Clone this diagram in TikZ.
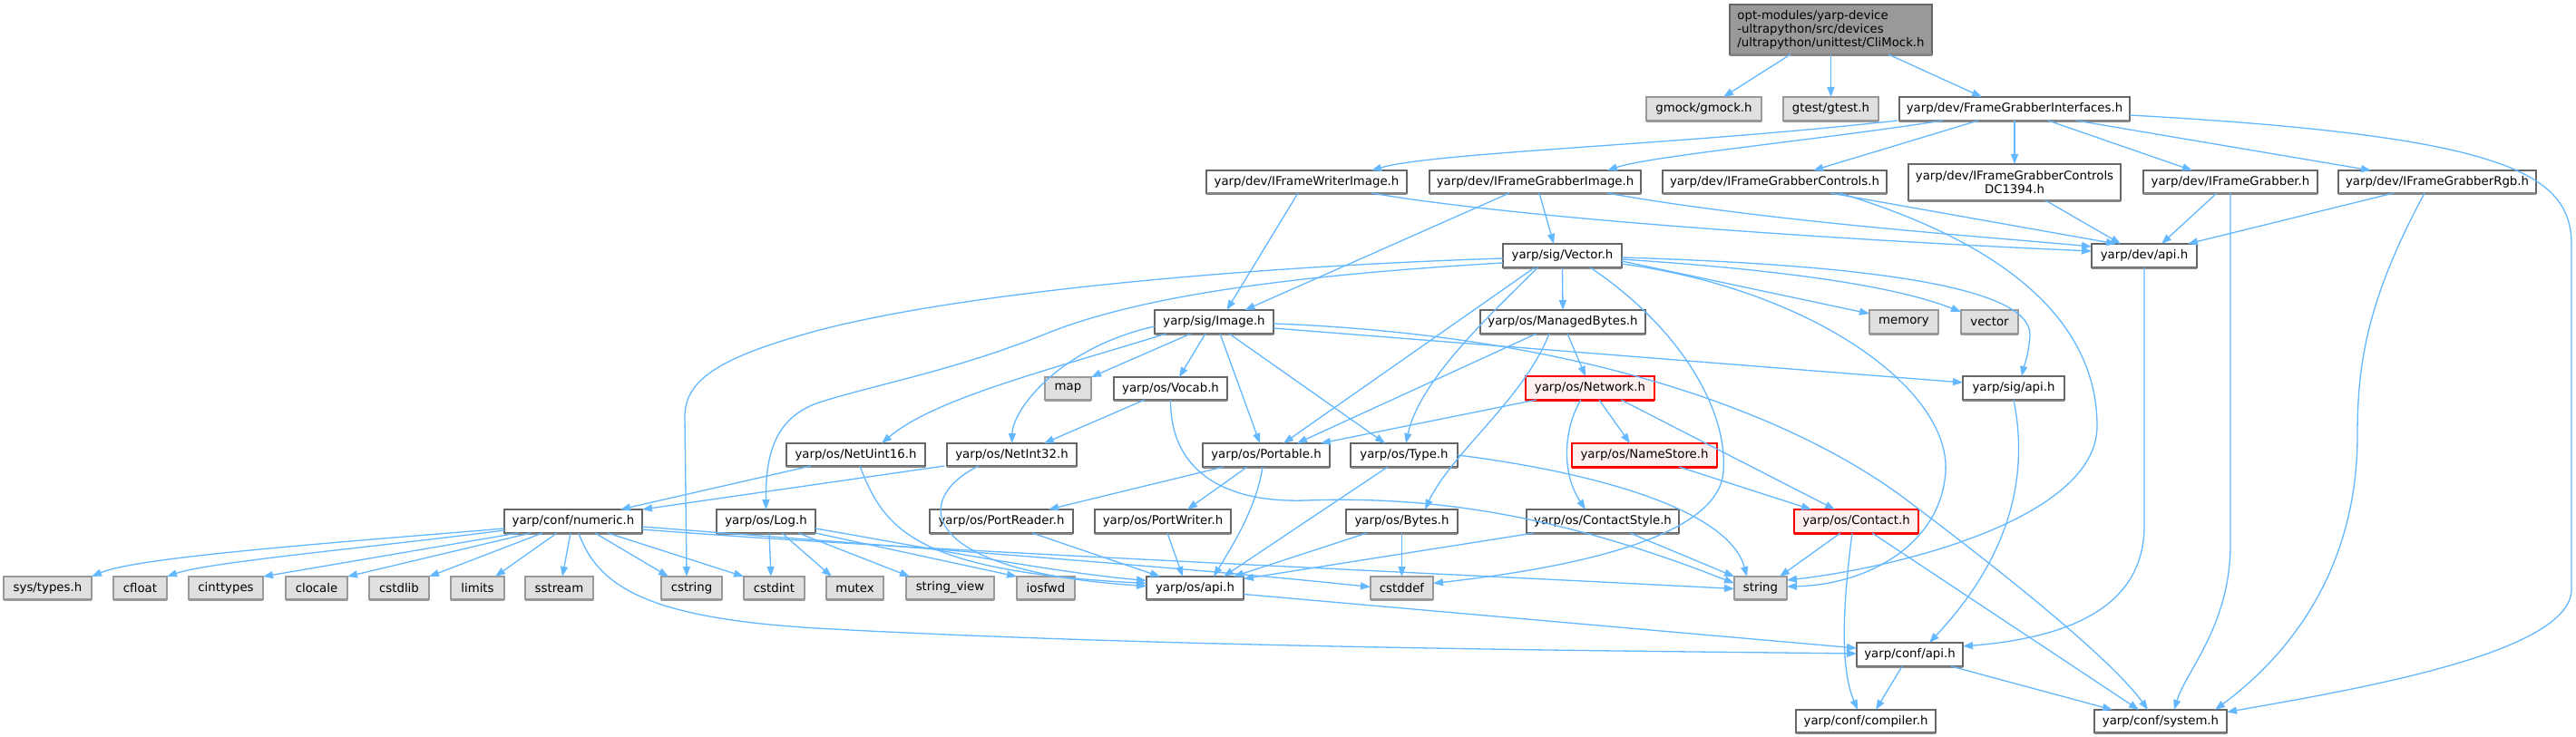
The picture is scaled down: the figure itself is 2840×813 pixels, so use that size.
\documentclass[tikz,border=0pt]{standalone}
\usepackage{fontspec}
\setmainfont{DejaVu Sans}
\usetikzlibrary{arrows.meta}
\definecolor{edgec}{HTML}{63B8FF}
\definecolor{bd}{HTML}{666666}
\definecolor{gbd}{HTML}{999999}
\definecolor{gfill}{HTML}{E0E0E0}
\definecolor{rfill}{HTML}{FFF0F0}
\definecolor{rootfill}{HTML}{999999}
\newcommand\nd[6]{\node[#1,minimum width=#4pt,minimum height=#5pt] (#2) at (#3) {#6};}
\begin{document}
\begin{tikzpicture}[x=1pt,y=-1pt,
  every node/.style={font=\fontsize{13.3}{15}\selectfont, inner sep=0pt, outer sep=0pt, line width=1.1pt, text=black},
  wbox/.style={draw=bd, fill=white, rectangle},
  gbox/.style={draw=gbd, fill=gfill, rectangle},
  rbox/.style={draw=red, fill=rfill, rectangle},
  rootbox/.style={draw=bd, fill=rootfill, rectangle},
  e/.style={draw=edgec, line width=1.3pt, -{Triangle[length=11pt,width=8pt]}},
]
\useasboundingbox[fill=white] (0,0) rectangle (2840,813);
% nodes
\nd{rootbox,align=left}{root}{2018.5,32.5}{223}{55}{opt-modules/yarp-device\\-ultrapython/src/devices\\/ultrapython/unittest/CliMock.h}
\nd{gbox}{gmock}{1878.5,120}{127}{26}{gmock/gmock.h}
\nd{gbox}{gtest}{2018.5,120}{105}{26}{gtest/gtest.h}
\nd{wbox}{fgi}{2221,120}{254}{26}{yarp/dev/FrameGrabberInterfaces.h}
\nd{wbox}{ifwi}{1440.5,200.5}{221}{25}{yarp/dev/IFrameWriterImage.h}
\nd{wbox}{ifgi}{1692.5,200.5}{233}{25}{yarp/dev/IFrameGrabberImage.h}
\nd{wbox}{ifgc}{1956.5,200.5}{247}{25}{yarp/dev/IFrameGrabberControls.h}
\nd{wbox,align=center}{dc}{2221,201}{234}{40}{yarp/dev/IFrameGrabberControls\\DC1394.h}
\nd{wbox}{ifg}{2459,200.5}{192}{25}{yarp/dev/IFrameGrabber.h}
\nd{wbox}{rgb}{2687,200.5}{218}{25}{yarp/dev/IFrameGrabberRgb.h}
\nd{wbox}{vec}{1722.5,282}{131}{26}{yarp/sig/Vector.h}
\nd{wbox}{devapi}{2364,282}{116}{26}{yarp/dev/api.h}
\nd{wbox}{img}{1338.5,355}{131}{26}{yarp/sig/Image.h}
\nd{wbox}{mb}{1723,355}{182}{26}{yarp/os/ManagedBytes.h}
\nd{gbox}{memory}{2099,355}{76}{26}{memory}
\nd{gbox}{vector}{2193.5,355}{63}{26}{vector}
\nd{gbox}{map}{1177.5,428.5}{51}{25}{map}
\nd{wbox}{vocab}{1290.5,428.5}{125}{25}{yarp/os/Vocab.h}
\nd{rbox}{net}{1753,428}{142}{26}{yarp/os/Network.h}
\nd{wbox}{sigapi}{2220,428}{112}{26}{yarp/sig/api.h}
\nd{wbox}{nu16}{943.5,501.5}{153}{25}{yarp/os/NetUint16.h}
\nd{wbox}{ni32}{1115.5,501.5}{143}{25}{yarp/os/NetInt32.h}
\nd{wbox}{port}{1396,502}{140}{26}{yarp/os/Portable.h}
\nd{wbox}{type}{1548,502}{118}{26}{yarp/os/Type.h}
\nd{rbox}{ns}{1813,502}{160}{26}{yarp/os/NameStore.h}
\nd{wbox}{numeric}{632,575}{152}{26}{yarp/conf/numeric.h}
\nd{wbox}{log}{844.5,575}{109}{26}{yarp/os/Log.h}
\nd{wbox}{prd}{1104,575}{158}{26}{yarp/os/PortReader.h}
\nd{wbox}{pwr}{1282,575}{150}{26}{yarp/os/PortWriter.h}
\nd{wbox}{bytes}{1545.5,575}{123}{26}{yarp/os/Bytes.h}
\nd{wbox}{cstyle}{1767,575}{168}{26}{yarp/os/ContactStyle.h}
\nd{rbox}{contact}{2046.5,575}{137}{26}{yarp/os/Contact.h}
\nd{gbox}{systypes}{52.5,648.5}{97}{25}{sys/types.h}
\nd{gbox}{cfloat}{154.5,648.5}{59}{25}{cfloat}
\nd{gbox}{cinttypes}{249,648.5}{82}{25}{cinttypes}
\nd{gbox}{clocale}{349,648.5}{68}{25}{clocale}
\nd{gbox}{cstdlib}{440,648.5}{66}{25}{cstdlib}
\nd{gbox}{limits}{526.5,648.5}{59}{25}{limits}
\nd{gbox}{sstream}{616.5,648.5}{75}{25}{sstream}
\nd{gbox}{cstring}{762.5,648.5}{67}{25}{cstring}
\nd{gbox}{cstdint}{853.5,648.5}{67}{25}{cstdint}
\nd{gbox}{mutex}{942.5,648.5}{63}{25}{mutex}
\nd{gbox}{strview}{1047.5,648.5}{97}{25}{string\_view}
\nd{gbox}{iosfwd}{1153,648.5}{64}{25}{iosfwd}
\nd{wbox}{osapi}{1317.5,648.5}{107}{25}{yarp/os/api.h}
\nd{gbox}{cstddef}{1545.5,648.5}{69}{25}{cstddef}
\nd{gbox}{string}{1941,648.5}{58}{25}{string}
\nd{wbox}{confapi}{2105.5,722}{117}{26}{yarp/conf/api.h}
\nd{wbox}{compiler}{2057,795.5}{154}{25}{yarp/conf/compiler.h}
\nd{wbox}{system}{2382,795.5}{146}{25}{yarp/conf/system.h}
% bottom shadows
\foreach \n in {root,fgi,ifwi,ifgi,ifgc,dc,ifg,rgb,vec,devapi,img,mb,vocab,sigapi,nu16,ni32,port,type,numeric,log,prd,pwr,bytes,cstyle,osapi,confapi,compiler,system}
  \draw[bd!80, line width=2.2pt] ([yshift=-0.6pt]\n.south west) -- ([yshift=-0.6pt]\n.south east);
\foreach \n in {gmock,gtest,memory,vector,map,systypes,cfloat,cinttypes,clocale,cstdlib,limits,sstream,cstring,cstdint,mutex,strview,iosfwd,cstddef,string}
  \draw[gbd, line width=2.2pt] ([yshift=-0.6pt]\n.south west) -- ([yshift=-0.6pt]\n.south east);
\foreach \n in {net,ns,contact}
  \draw[red, line width=2.2pt] ([yshift=-0.6pt]\n.south west) -- ([yshift=-0.6pt]\n.south east);
% edges
\draw[e] ([xshift=-44.5pt]root.south) -- ([xshift=21.5pt]gmock.north);
\draw[e] (root.south) -- (gtest.north);
\draw[e] ([xshift=63.5pt]root.south) -- ([xshift=-36pt]fgi.north);
\draw[e] ([xshift=-129pt]fgi.south) .. controls (1850,160) and (1580,168) .. ([xshift=71.5pt]ifwi.north);
\draw[e] ([xshift=-79pt]fgi.south) .. controls (2000,155) and (1820,172) .. ([xshift=79.5pt]ifgi.north);
\draw[e] ([xshift=-40pt]fgi.south) -- ([xshift=42.5pt]ifgc.north);
\draw[e] (fgi.south) -- (dc.north);
\draw[e] ([xshift=37pt]fgi.south) -- ([xshift=-42pt]ifg.north);
\draw[e] ([xshift=68pt]fgi.south) -- ([xshift=-73pt]rgb.north);
\draw[e] ([yshift=-7pt]fgi.east) .. controls (2760,150) and (2835,190) .. (2835,270) -- (2835,650) .. controls (2835,720) and (2600,760) .. ([yshift=10pt]system.east);
\draw[e] ([xshift=-9.5pt]ifwi.south) -- ([xshift=14pt]img.north);
\draw[e] ([xshift=71.5pt]ifwi.south) .. controls (1700,245) and (2100,268) .. ([yshift=5pt]devapi.west);
\draw[e] ([xshift=-28.5pt]ifgi.south) -- ([xshift=34pt]img.north);
\draw[e] ([xshift=4.5pt]ifgi.south) -- ([xshift=-9.5pt]vec.north);
\draw[e] ([xshift=79.5pt]ifgi.south) .. controls (1950,245) and (2200,262) .. ([yshift=10pt]devapi.west);
\draw[e] ([xshift=61.5pt]ifgc.south) -- ([xshift=-31pt]devapi.north);
\draw[e] ([xshift=71.5pt]ifgc.south) .. controls (2250,280) and (2312,380) .. (2312,470) .. controls (2312,570) and (2100,625) .. ([yshift=8.5pt]string.east);
\draw[e] ([xshift=34pt]dc.south) -- ([xshift=-26pt]devapi.north);
\draw[e] ([xshift=-15pt]ifg.south) -- ([xshift=19pt]devapi.north);
\draw[e] (ifg.south) -- (2459,600) .. controls (2459,690) and (2410,740) .. ([xshift=15pt]system.north);
\draw[e] ([xshift=-48pt]rgb.south) -- ([xshift=48pt]devapi.north);
\draw[e] ([xshift=-14pt]rgb.south) .. controls (2610,330) and (2599,400) .. (2599,480) .. controls (2599,650) and (2500,740) .. ([xshift=60pt]system.north);
\draw[e] (devapi.south) -- (2364,580) .. controls (2364,680) and (2260,705) .. ([yshift=9pt]confapi.east);
\draw[e] ([yshift=-3pt]vec.west) .. controls (1350,295) and (1050,325) .. (900,365) .. controls (790,395) and (755,420) .. (755,460) -- ([xshift=-5.5pt]cstring.north);
\draw[e] ([yshift=-8pt]vec.west) .. controls (1400,305) and (1250,330) .. (1156,367) .. controls (1050,410) and (960,425) .. (900,445) .. controls (855,462) and (844,500) .. (log.north);
\draw[e] ([xshift=-30.5pt]vec.south) -- ([xshift=19pt]port.north);
\draw[e] ([xshift=-27pt]vec.south) .. controls (1640,350) and (1565,420) .. ([xshift=2pt]type.north);
\draw[e] (vec.south) -- (mb.north);
\draw[e] ([xshift=30.5pt]vec.south) .. controls (1850,360) and (1905,450) .. (1900,520) .. controls (1895,600) and (1700,630) .. ([yshift=5pt]cstddef.east);
\draw[e] ([yshift=-9pt]vec.east) .. controls (2000,320) and (2150,430) .. (2145,520) .. controls (2140,600) and (2060,645) .. ([yshift=1.5pt]string.east);
\draw[e] ([yshift=-6pt]vec.east) -- ([yshift=9pt]memory.west);
\draw[e] ([yshift=-4pt]vec.east) .. controls (2000,300) and (2100,320) .. ([yshift=11pt]vector.west);
\draw[e] ([yshift=-2pt]vec.east) .. controls (2050,292) and (2240,315) .. (2238,370) .. controls (2236,395) and (2231,405) .. ([xshift=9pt]sigapi.north);
\draw[e] ([xshift=-25.5pt]img.south) -- ([xshift=25.5pt]map.north);
\draw[e] ([xshift=-9.5pt]img.south) -- ([xshift=9.5pt]vocab.north);
\draw[e] ([yshift=-5pt]img.west) .. controls (1170,383) and (1117,450) .. (ni32.north);
\draw[e] ([xshift=-52.5pt]img.south) .. controls (1150,410) and (1030,440) .. ([xshift=28.5pt]nu16.north);
\draw[e] ([xshift=6.5pt]img.south) -- ([xshift=-7pt]port.north);
\draw[e] ([xshift=16.5pt]img.south) -- ([xshift=-21pt]type.north);
\draw[e] ([yshift=-7pt]img.east) -- ([yshift=6pt]sigapi.west);
\draw[e] ([yshift=-2pt]img.east) .. controls (1750,370) and (1980,460) .. (2100,550) .. controls (2220,640) and (2330,730) .. ([xshift=-14pt]system.north);
\draw[e] ([xshift=-29pt]mb.south) -- ([xshift=34pt]port.north);
\draw[e] ([xshift=5pt]mb.south) -- ([xshift=-5pt]net.north);
\draw[e] ([xshift=-15pt]mb.south) .. controls (1680,440) and (1600,500) .. ([xshift=25.5pt]bytes.north);
\draw[e] ([xshift=-59pt]net.south) -- ([xshift=60pt]port.north);
\draw[e] ([xshift=10pt]net.south) -- ([xshift=-16pt]ns.north);
\draw[e] ([xshift=34pt]net.south) -- ([xshift=-23.5pt]contact.north);
\draw[e] ([xshift=-10pt]net.south) .. controls (1725,470) and (1720,520) .. ([xshift=-19pt]cstyle.north);
\draw[e] ([xshift=38pt]ns.south) -- ([xshift=-49.5pt]contact.north);
\draw[e] ([xshift=-28.5pt]vocab.south) -- ([xshift=35.5pt]ni32.north);
\draw[e] (vocab.south) .. controls (1290,520) and (1350,555) .. (1440,552) .. controls (1560,548) and (1700,560) .. ([yshift=5pt]string.west);
\draw[e] ([xshift=-49.5pt]nu16.south) -- ([xshift=52pt]numeric.north);
\draw[e] ([xshift=4.5pt]nu16.south) .. controls (975,585) and (1010,630) .. ([yshift=5pt]osapi.west);
\draw[e] ([xshift=-74.5pt]ni32.south) -- (numeric.north east);
\draw[e] ([xshift=-36.5pt]ni32.south) .. controls (1005,550) and (1010,630) .. ([yshift=2pt]osapi.west);
\draw[e] ([xshift=-47pt]port.south) -- ([xshift=52pt]prd.north);
\draw[e] ([xshift=-21pt]port.south) -- ([xshift=27pt]pwr.north);
\draw[e] ([xshift=-4pt]port.south) .. controls (1385,560) and (1360,600) .. ([xshift=20.5pt]osapi.north);
\draw[e] ([xshift=-18pt]type.south) -- ([xshift=31.5pt]osapi.north);
\draw[e] (type.east) .. controls (1750,520) and (1905,560) .. ([xshift=-15pt]string.north);
\draw[e] ([xshift=34pt]prd.south) -- ([xshift=-38.5pt]osapi.north);
\draw[e] ([xshift=5pt]pwr.south) -- ([xshift=-13.5pt]osapi.north);
\draw[e] ([xshift=-38.5pt]bytes.south) -- ([xshift=42.5pt]osapi.north);
\draw[e] (bytes.south) -- (cstddef.north);
\draw[e] ([xshift=-76pt]cstyle.south) -- ([yshift=10pt]osapi.east);
\draw[e] ([xshift=30pt]cstyle.south) -- (string.north west);
\draw[e] ([xshift=-17.5pt]contact.south) -- ([xshift=21pt]string.north);
\draw[e] ([xshift=-4.5pt]contact.south) .. controls (2030,680) and (2030,740) .. ([xshift=-9pt]compiler.north);
\draw[e] ([xshift=17.5pt]contact.south) -- ([xshift=-24pt]system.north);
\draw[e] ([xshift=3.5pt]log.south) -- ([xshift=-3.5pt]cstdint.north);
\draw[e] ([xshift=17.5pt]log.south) -- ([xshift=-25.5pt]mutex.north);
\draw[e] ([xshift=35.5pt]log.south) -- ([xshift=-44.5pt]strview.north);
\draw[e] (log.south east) -- (iosfwd.north west);
\draw[e] ([yshift=-8pt]log.east) .. controls (1000,600) and (1150,630) .. ([yshift=8pt]osapi.west);
\draw[e] ([yshift=-8pt]numeric.west) .. controls (350,600) and (150,615) .. (systypes.north east);
\draw[e] ([yshift=-10pt]numeric.west) .. controls (400,605) and (230,620) .. (cfloat.north east);
\draw[e] ([xshift=-61pt]numeric.south) -- (cinttypes.north east);
\draw[e] ([xshift=-47pt]numeric.south) -- (clocale.north east);
\draw[e] ([xshift=-34pt]numeric.south) -- (cstdlib.north east);
\draw[e] ([xshift=-18pt]numeric.south) -- ([xshift=19.5pt]limits.north);
\draw[e] ([xshift=-3pt]numeric.south) -- ([xshift=3.5pt]sstream.north);
\draw[e] ([xshift=24pt]numeric.south) -- ([xshift=-25.5pt]cstring.north);
\draw[e] ([xshift=38pt]numeric.south) -- (cstdint.north west);
\draw[e] ([xshift=6pt]numeric.south) .. controls (660,650) and (720,682) .. (900,693) .. controls (1300,715) and (1800,718) .. ([yshift=1pt]confapi.west);
\draw[e] ([yshift=-6pt]numeric.east) .. controls (950,600) and (1300,625) .. ([yshift=1pt]cstddef.west);
\draw[e] ([yshift=-9pt]numeric.east) .. controls (1000,607) and (1500,628) .. ([yshift=-1pt]string.west);
\draw[e] ([yshift=-7pt]osapi.east) -- ([yshift=7pt]confapi.west);
\draw[e] (sigapi.south) .. controls (2236,520) and (2220,610) .. ([xshift=21.5pt]confapi.north);
\draw[e] ([xshift=-8.5pt]confapi.south) -- ([xshift=11pt]compiler.north);
\draw[e] ([xshift=45.5pt]confapi.south) -- ([xshift=-53pt]system.north);
\end{tikzpicture}
\end{document}
